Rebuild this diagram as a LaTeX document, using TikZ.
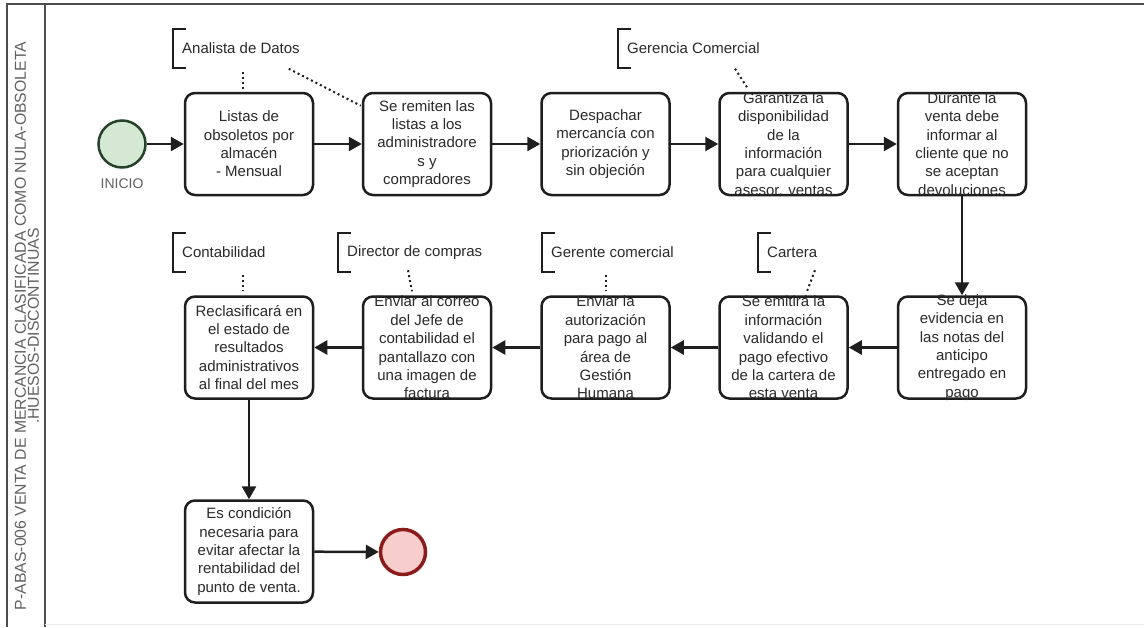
\documentclass[tikz,border=0pt]{standalone}
\usepackage{fontspec}
\setmainfont{Liberation Sans}
\usetikzlibrary{arrows.meta}

\definecolor{ink}{HTML}{1E1E1E}
\definecolor{txt}{HTML}{2A2A2A}
\definecolor{frame}{HTML}{4D4D4D}
\definecolor{startfill}{HTML}{D5E8D4}
\definecolor{startline}{HTML}{27422A}
\definecolor{endfill}{HTML}{F8CECC}
\definecolor{endline}{HTML}{8A1C1C}

\begin{document}
\begin{tikzpicture}[x=1pt,y=-1pt,
  task/.style={draw=ink, line width=2.5pt, rounded corners=10pt, fill=white,
    minimum width=128pt, minimum height=102pt, inner sep=0pt},
  tasktext/.style={text=txt, font=\fontsize{15}{18.4}\selectfont, align=center, inner sep=0pt},
  flow/.style={draw=ink, line width=2.5pt, -{Triangle[length=13pt,width=14pt]}},
  annot/.style={text=txt, font=\fontsize{15}{18}\selectfont, anchor=west,
    inner xsep=9pt, inner ysep=0pt, minimum height=39pt},
  bracket/.style={draw=ink, line width=2.5pt},
  assoc/.style={draw=ink, line width=2pt, dash pattern=on 2pt off 3pt}]

\useasboundingbox (0,0) rectangle (1144,627);
\fill[white] (0,0) rectangle (1144,627);

% pool frame and lane header
\draw[frame, line width=1.8pt] (1144,4) -- (7,4) -- (7,627);
\draw[frame, line width=1.8pt] (45,4) -- (45,627);
\draw[black!8, line width=1pt] (45,624) -- (1144,624);
\node[rotate=90, align=center, text=black!62, inner sep=0pt,
      font=\fontsize{15.8}{13}\selectfont] (pool) at (27,326)
  {P-ABAS-006 VENTA DE MERCANCIA CLASIFICADA COMO NULA-OBSOLETA\\.HUESOS-DISCONTINUAS};

% start and end events
\node[circle, draw=startline, fill=startfill, line width=2.5pt, minimum size=47pt, inner sep=0pt] (start) at (122,144) {};
\node[text=black!62, font=\fontsize{14}{16}\selectfont, inner sep=0pt] (startlbl) at (122,184) {INICIO};
\node[circle, draw=endline, fill=endfill, line width=3.5pt, minimum size=45pt, inner sep=0pt] (finish) at (403,552) {};

% first row of tasks
\node[task] (t1) at (249,144) {};
\node[tasktext] (t1x) at (t1.center) {Listas de\\obsoletos por\\almacén\\- Mensual};
\node[task] (t2) at (427,144) {};
\node[tasktext] (t2x) at (t2.center) {Se remiten las\\listas a los\\administradore\\s y\\compradores};
\node[task] (t3) at (605.5,144) {};
\node[tasktext] (t3x) at (t3.center) {Despachar\\mercancía con\\priorización y\\sin objeción};
\node[task] (t4) at (783.5,144) {};
\node[tasktext] (t4x) at (t4.center) {Garantiza la\\disponibilidad\\de la\\información\\para cualquier\\asesor. ventas};
\node[task] (t5) at (962,144) {};
\node[tasktext] (t5x) at (t5.center) {Durante la\\venta debe\\informar al\\cliente que no\\se aceptan\\devoluciones};

% second row of tasks
\node[task] (t6) at (962,347.5) {};
\node[tasktext] (t6x) at (t6.center) {Se deja\\evidencia en\\las notas del\\anticipo\\entregado en\\pago};
\node[task] (t7) at (783.5,347.5) {};
\node[tasktext] (t7x) at (t7.center) {Se emitirá la\\información\\validando el\\pago efectivo\\de la cartera de\\esta venta};
\node[task] (t8) at (605.5,347.5) {};
\node[tasktext] (t8x) at (t8.center) {Enviar la\\autorización\\para pago al\\área de\\Gestión\\Humana};
\node[task] (t9) at (427,347.5) {};
\node[tasktext] (t9x) at (t9.center) {Enviar al correo\\del Jefe de\\contabilidad el\\pantallazo con\\una imagen de\\factura};
\node[task] (t10) at (249,347.5) {};
\node[tasktext] (t10x) at (t10.center) {Reclasificará en\\el estado de\\resultados\\administrativos\\al final del mes};

% last task
\node[task] (t11) at (249,551.5) {};
\node[tasktext] (t11x) at (t11.center) {Es condición\\necesaria para\\evitar afectar la\\rentabilidad del\\punto de venta.};

% sequence flows
\draw[flow] (start) -- (t1);
\draw[flow] (t1) -- (t2);
\draw[flow] (t2) -- (t3);
\draw[flow] (t3) -- (t4);
\draw[flow] (t4) -- (t5);
\draw[flow] (t5) -- (t6);
\draw[flow] (t6) -- (t7);
\draw[flow] (t7) -- (t8);
\draw[flow] (t8) -- (t9);
\draw[flow] (t9) -- (t10);
\draw[flow] (t10) -- (t11);
\draw[flow] (t11) -- (finish);

% text annotations
\node[annot] (aDatos) at (173,48.5) {Analista de Datos};
\node[annot] (aGerencia) at (618,48.5) {Gerencia Comercial};
\node[annot] (aConta) at (173,252.5) {Contabilidad};
\node[annot] (aDirector) at (338,252.5) {Director de compras};
\node[annot] (aGerente) at (542,252.5) {Gerente comercial};
\node[annot] (aCartera) at (758,252.5) {Cartera};
\foreach \a in {aDatos,aGerencia,aConta,aDirector,aGerente,aCartera}{
  \draw[bracket] ([xshift=13pt]\a.north west) -- (\a.north west)
    -- (\a.south west) -- ([xshift=13pt]\a.south west);
}

% associations
\draw[assoc] ([xshift=-6pt,yshift=20pt]t1.north) -- ([xshift=-6pt,yshift=3pt]t1.north);
\draw[assoc] ([xshift=-73pt,yshift=23pt]t2.north west) -- ([xshift=-1pt,yshift=-14pt]t2.north west);
\draw[assoc] ([xshift=-48.5pt,yshift=23pt]t4.north) -- ([xshift=-35.5pt,yshift=3pt]t4.north);
\draw[assoc] ([xshift=-6pt,yshift=20pt]t10.north) -- ([xshift=-6pt,yshift=4pt]t10.north);
\draw[assoc] ([xshift=-19pt,yshift=25pt]t9.north) -- ([xshift=-15pt,yshift=4pt]t9.north);
\draw[assoc] ([xshift=0.5pt,yshift=20pt]t8.north) -- ([xshift=0.5pt,yshift=4pt]t8.north);
\draw[assoc] ([xshift=31.5pt,yshift=25pt]t7.north) -- ([xshift=23.5pt,yshift=4pt]t7.north);

\end{tikzpicture}
\end{document}
